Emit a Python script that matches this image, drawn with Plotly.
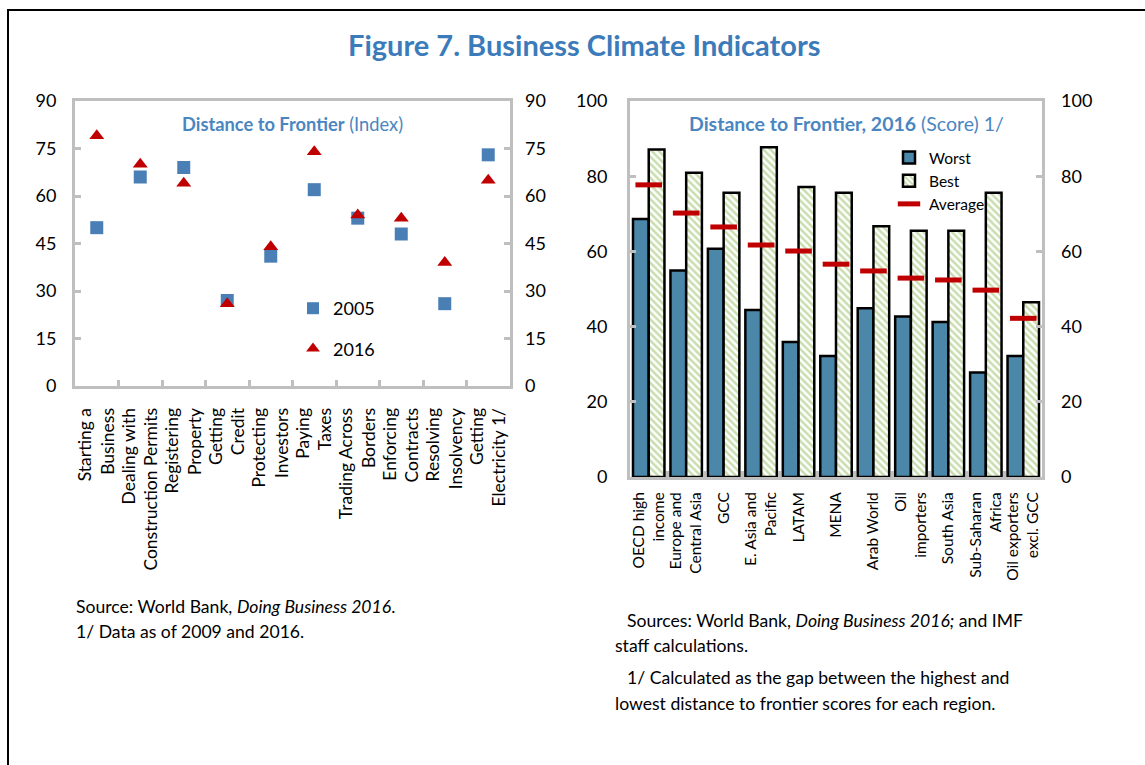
import plotly.graph_objects as go

W, H = 1145, 765
def px(x): return x / W
def py(y): return 1 - y / H

FONT = "Lato"
BLUE_T = "#3b7bba"

# ---------------- Left panel data ----------------
indicators = ["Starting a<br>Business", "Dealing with<br>Construction Permits", "Registering<br>Property",
              "Getting<br>Credit", "Protecting<br>Investors", "Paying<br>Taxes", "Trading Across<br>Borders",
              "Enforcing<br>Contracts", "Resolving<br>Insolvency", "Getting<br>Electricity 1/"]
dtf_2005 = [50, 66, 69, 27, 41, 62, 53, 48, 26, 73]
dtf_2016 = [79, 70, 64, 26, 44, 74, 54, 53, 39, 65]

# ---------------- Right panel data ----------------
regions = ["OECD high<br>income", "Europe and<br>Central Asia", "GCC", "E. Asia and<br>Pacific", "LATAM",
           "MENA", "Arab World", "Oil<br>importers", "South Asia", "Sub-Saharan<br>Africa",
           "Oil exporters<br>excl. GCC"]
worst = [68.6, 54.9, 60.7, 44.4, 35.9, 32.2, 44.9, 42.7, 41.2, 27.8, 32.2]
best = [87.1, 80.9, 75.6, 87.7, 77.1, 75.6, 66.7, 65.5, 65.5, 75.6, 46.5]
average = [77.7, 70.2, 66.5, 61.7, 60.1, 56.6, 54.8, 52.9, 52.4, 49.7, 42.2]

fig = go.Figure()

fig.add_trace(go.Scatter(x=indicators, y=dtf_2005, mode="markers", name="2005",
                         marker=dict(symbol="square", size=13, color="#4a7fb5"),
                         xaxis="x", yaxis="y", legend="legend", legendgroup="a"))
fig.add_trace(go.Scatter(x=indicators, y=dtf_2016, mode="markers", name="2016",
                         marker=dict(symbol="triangle-up", size=13, color="#c00000"),
                         xaxis="x", yaxis="y3", legend="legend", legendgroup="b"))

fig.add_trace(go.Bar(x=regions, y=worst, name="Worst", xaxis="x2", yaxis="y2", legend="legend2",
                     marker=dict(color="#4a87a9", line=dict(color="black", width=2.5))))
fig.add_trace(go.Bar(x=regions, y=best, name="Best", xaxis="x2", yaxis="y2", legend="legend2",
                     marker=dict(color="white", line=dict(color="black", width=2.5),
                                 pattern=dict(shape="\\", fgcolor="#93bb5e", bgcolor="white",
                                              size=5, solidity=0.5))))
fig.add_trace(go.Scatter(x=regions, y=average, mode="markers", name="Average", xaxis="x2", yaxis="y4",
                         legend="legend2",
                         marker=dict(symbol="line-ew", size=19, color="#c00000",
                                     line=dict(color="#c00000", width=5))))

GRAY = "#bfbfbf"
ycommon = dict(showgrid=False, zeroline=False, ticks="inside", ticklen=6, tickwidth=3, automargin=False,
               tickcolor=GRAY, tickfont=dict(family=FONT, size=18, color="black"))
xcommon = dict(type="category", showgrid=False, zeroline=False, ticks="inside", ticklen=6, automargin=False,
               tickwidth=3, tickcolor=GRAY, tickson="boundaries", tickangle=-90,
               showline=True, linecolor=GRAY, linewidth=3, mirror=True)

fig.update_layout(
    width=W, height=H, margin=dict(l=0, r=0, t=0, b=0, autoexpand=False),
    paper_bgcolor="white", plot_bgcolor="white",
    font=dict(family=FONT, color="black"),
    barmode="group", bargap=0.16, bargroupgap=0,
    xaxis=dict(domain=[px(75), px(510)], anchor="y", range=[-0.5, 9.5], ticklabelstandoff=12,
               tickfont=dict(family=FONT, size=17.5, color="black"), **xcommon),
    yaxis=dict(domain=[py(386), py(101)], anchor="x", range=[0, 90], dtick=15,
               showline=True, linecolor=GRAY, linewidth=3, mirror=True, ticklabelstandoff=12, **ycommon),
    yaxis3=dict(overlaying="y", side="right", anchor="x", range=[0, 90], dtick=15,
                showline=False, ticklabelstandoff=14, **ycommon),
    xaxis2=dict(domain=[px(630), px(1042)], anchor="y2", range=[-0.5, 10.5], ticklabelstandoff=6,
                tickfont=dict(family=FONT, size=15.5, color="black"), **xcommon),
    yaxis2=dict(domain=[py(477), py(101)], anchor="x2", range=[0, 100], dtick=20,
                showline=True, linecolor=GRAY, linewidth=3, mirror=True, ticklabelstandoff=16, **ycommon),
    yaxis4=dict(overlaying="y2", side="right", anchor="x2", range=[0, 100], dtick=20,
                showline=False, ticklabelstandoff=18, **ycommon),
    legend=dict(x=px(293), y=py(290), xanchor="left", yanchor="top", bgcolor="rgba(0,0,0,0)",
                font=dict(family=FONT, size=18, color="black"), itemsizing="constant",
                traceorder="grouped", tracegroupgap=14, itemwidth=30),
    legend2=dict(x=px(889), y=py(141), xanchor="left", yanchor="top", bgcolor="rgba(0,0,0,0)",
                 font=dict(family=FONT, size=15.5, color="black"), itemwidth=30, tracegroupgap=2),
    showlegend=True,
)

annotations = [
    dict(text="<b>Figure 7. Business Climate Indicators</b>", x=px(584), y=py(44),
         font=dict(family=FONT, size=29, color=BLUE_T)),
    dict(text="<b>Distance to Frontier</b> (Index)", x=px(292), y=py(124),
         font=dict(family=FONT, size=18.3, color="#4a86c0")),
    dict(text="<b>Distance to Frontier, 2016</b> (Score) 1/", x=px(846), y=py(124),
         font=dict(family=FONT, size=19.5, color="#4a86c0")),
    dict(text="Source: World Bank, <i>Doing Business 2016</i>.", x=px(74), y=py(606), xanchor="left",
         font=dict(family=FONT, size=17.6)),
    dict(text="1/ Data as of 2009 and 2016.", x=px(74), y=py(631), xanchor="left",
         font=dict(family=FONT, size=17.6)),
    dict(text="Sources: World Bank, <i>Doing Business 2016;</i> and IMF", x=px(625), y=py(620),
         xanchor="left", font=dict(family=FONT, size=17.6)),
    dict(text="staff calculations.", x=px(613), y=py(645), xanchor="left", font=dict(family=FONT, size=17.6)),
    dict(text="1/ Calculated as the gap between the highest and", x=px(625), y=py(677), xanchor="left",
         font=dict(family=FONT, size=17.6)),
    dict(text="lowest distance to frontier scores for each region.", x=px(613), y=py(703), xanchor="left",
         font=dict(family=FONT, size=17.6)),
]
for a in annotations:
    a.update(xref="paper", yref="paper", showarrow=False, yanchor="middle")
    a.setdefault("xanchor", "center")
fig.update_layout(annotations=annotations)

fig.add_shape(type="rect", xref="paper", yref="paper", x0=px(8), x1=px(1200), y0=py(10), y1=py(820),
              line=dict(color="black", width=2), fillcolor="rgba(0,0,0,0)", layer="below")

fig.write_html("out.html", config={"displayModeBar": False},
               post_script="document.body.style.margin='0';")
